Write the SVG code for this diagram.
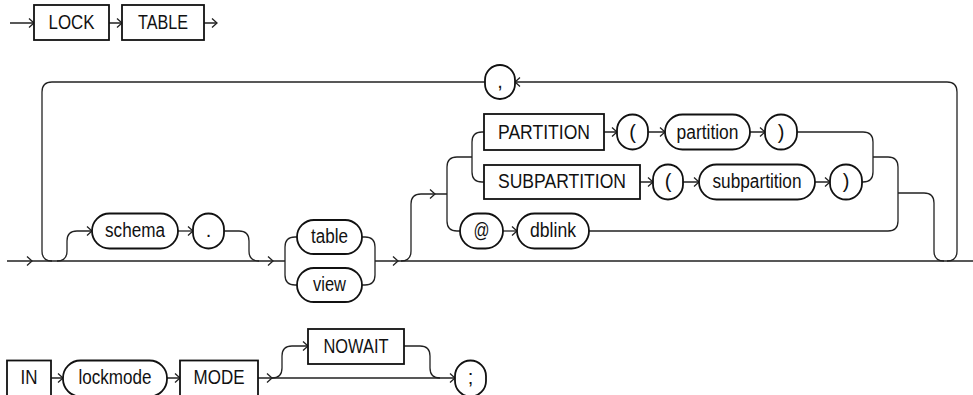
<svg xmlns="http://www.w3.org/2000/svg" xmlns:xlink="http://www.w3.org/1999/xlink" width="973" height="395" viewBox="0 0 973 395">
<style>
.c{fill:none;stroke:#222;stroke-width:1.3}
.k{fill:#fff;stroke:#111;stroke-width:1.8}
.t{font-family:"Liberation Sans",Arial,sans-serif;font-size:20px;fill:#111;text-anchor:middle}
</style>
<defs>
<path id="ar" d="M-5,-4.5 L0,0 L-5,4.5" fill="none" stroke="#222" stroke-width="1.3"/>
</defs>
<rect width="973" height="395" fill="#fff"/>
<g id="connectors">
<path class="c" d="M10,23 H34 M109,23 H122 M204,23 H217"/>
<path class="c" d="M7,261 H285 M375,261 H973"/>
<path class="c" d="M947,261 Q957,261 957,251 V92 Q957,82 947,82 H515"/>
<path class="c" d="M485,82 H52 Q42,82 42,92 V251 Q42,261 52,261"/>
<path class="c" d="M57,261 Q67,261 67,251 V241 Q67,231 77,231 H92"/>
<path class="c" d="M178,231 H193"/>
<path class="c" d="M224,231 H239 Q249,231 249,241 V251 Q249,261 259,261"/>
<path class="c" d="M297,237 H295 Q285,237 285,247 V275 Q285,285 295,285 H297"/>
<path class="c" d="M362,237 H365 Q375,237 375,247 V275 Q375,285 365,285 H362"/>
<path class="c" d="M401,261 Q411,261 411,251 V204 Q411,194 421,194 H447"/>
<path class="c" d="M472,157 H457 Q447,157 447,167 V221 Q447,231 457,231 H460"/>
<path class="c" d="M484,132 H482 Q472,132 472,142 V172 Q472,182 482,182 H484"/>
<path class="c" d="M604,132 H617 M648,132 H665 M750,132 H765"/>
<path class="c" d="M640,182 H653 M683,182 H699 M815,182 H830"/>
<path class="c" d="M797,132 H863 Q873,132 873,142 V172 Q873,182 863,182 H862"/>
<path class="c" d="M873,157 H888 Q898,157 898,167 V221 Q898,231 888,231 H589"/>
<path class="c" d="M898,193 H924 Q934,193 934,203 V251 Q934,261 944,261"/>
<path class="c" d="M503,231 H517"/>
<path class="c" d="M51,378 H63 M167,378 H180 M258,378 H455"/>
<path class="c" d="M272,378 Q282,378 282,368 V356 Q282,346 292,346 H308"/>
<path class="c" d="M404,346 H420 Q430,346 430,356 V368 Q430,378 440,378"/>
<use href="#ar" x="34" y="23"/>
<use href="#ar" x="122" y="23"/>
<use href="#ar" x="217" y="23"/>
<use href="#ar" x="32" y="261"/>
<use href="#ar" x="92" y="231"/>
<use href="#ar" x="193" y="231"/>
<use href="#ar" x="273" y="261"/>
<use href="#ar" x="398" y="261"/>
<use href="#ar" x="435" y="194"/>
<use href="#ar" x="617" y="132"/>
<use href="#ar" x="665" y="132"/>
<use href="#ar" x="765" y="132"/>
<use href="#ar" x="653" y="182"/>
<use href="#ar" x="699" y="182"/>
<use href="#ar" x="830" y="182"/>
<use href="#ar" x="517" y="231"/>
<use href="#ar" transform="translate(515,82) rotate(180)"/>
<use href="#ar" x="63" y="378"/>
<use href="#ar" x="180" y="378"/>
<use href="#ar" x="272" y="378"/>
<use href="#ar" x="308" y="346"/>
<use href="#ar" x="455" y="378"/>
</g>
<g id="n-lock"><rect class="k" x="34" y="5" width="75" height="35"/><text class="t" x="71.5" y="29" textLength="46" lengthAdjust="spacingAndGlyphs">LOCK</text></g>
<g id="n-table-kw"><rect class="k" x="122" y="5" width="82" height="35"/><text class="t" x="163" y="29" textLength="50" lengthAdjust="spacingAndGlyphs">TABLE</text></g>
<g id="n-comma"><rect class="k" x="485" y="65" width="30" height="34" rx="15"/><text class="t" x="500" y="88">,</text></g>
<g id="n-schema"><rect class="k" x="92" y="213.5" width="86" height="35" rx="17.5"/><text class="t" x="135" y="237" textLength="60" lengthAdjust="spacingAndGlyphs">schema</text></g>
<g id="n-dot"><rect class="k" x="193" y="213.5" width="31" height="35" rx="15.5"/><text class="t" x="208.5" y="237">.</text></g>
<g id="n-table"><rect class="k" x="297" y="220" width="65" height="34" rx="17"/><text class="t" x="329.5" y="243" textLength="37" lengthAdjust="spacingAndGlyphs">table</text></g>
<g id="n-view"><rect class="k" x="297" y="268" width="65" height="34" rx="17"/><text class="t" x="329.5" y="291" textLength="33" lengthAdjust="spacingAndGlyphs">view</text></g>
<g id="n-partition-kw"><rect class="k" x="484" y="114" width="120" height="36"/><text class="t" x="544" y="138.5" textLength="92" lengthAdjust="spacingAndGlyphs">PARTITION</text></g>
<g id="n-subpartition-kw"><rect class="k" x="484" y="165" width="156" height="34"/><text class="t" x="562" y="188" textLength="128" lengthAdjust="spacingAndGlyphs">SUBPARTITION</text></g>
<g id="n-at"><rect class="k" x="460" y="213.5" width="43" height="35" rx="17.5"/><text class="t" x="481.5" y="237" textLength="16" lengthAdjust="spacingAndGlyphs">@</text></g>
<g id="n-dblink"><rect class="k" x="517" y="213.5" width="72" height="35" rx="17.5"/><text class="t" x="553" y="237" textLength="46" lengthAdjust="spacingAndGlyphs">dblink</text></g>
<g id="n-lp1"><rect class="k" x="617" y="114.5" width="31" height="35" rx="15.5"/><text class="t" x="632.5" y="138.5">(</text></g>
<g id="n-partition"><rect class="k" x="665" y="114.5" width="85" height="35" rx="17.5"/><text class="t" x="707.5" y="138.5" textLength="62" lengthAdjust="spacingAndGlyphs">partition</text></g>
<g id="n-rp1"><rect class="k" x="765" y="114.5" width="32" height="35" rx="16"/><text class="t" x="781" y="138.5">)</text></g>
<g id="n-lp2"><rect class="k" x="653" y="164.5" width="30" height="35" rx="15"/><text class="t" x="668" y="188">(</text></g>
<g id="n-subpartition"><rect class="k" x="699" y="164.5" width="116" height="35" rx="17.5"/><text class="t" x="757" y="188" textLength="89" lengthAdjust="spacingAndGlyphs">subpartition</text></g>
<g id="n-rp2"><rect class="k" x="830" y="164.5" width="32" height="35" rx="16"/><text class="t" x="846" y="188">)</text></g>
<g id="n-in"><rect class="k" x="7" y="360.5" width="44" height="36"/><text class="t" x="29" y="384" textLength="17" lengthAdjust="spacingAndGlyphs">IN</text></g>
<g id="n-lockmode"><rect class="k" x="63" y="360.5" width="104" height="36" rx="17.5"/><text class="t" x="115" y="384" textLength="73" lengthAdjust="spacingAndGlyphs">lockmode</text></g>
<g id="n-mode"><rect class="k" x="180" y="360.5" width="78" height="36"/><text class="t" x="219" y="384" textLength="51" lengthAdjust="spacingAndGlyphs">MODE</text></g>
<g id="n-nowait"><rect class="k" x="308" y="329" width="96" height="35"/><text class="t" x="356" y="352.5" textLength="65" lengthAdjust="spacingAndGlyphs">NOWAIT</text></g>
<g id="n-semicolon"><rect class="k" x="455" y="360.5" width="31" height="36" rx="15.5"/><text class="t" x="470.5" y="384">;</text></g>
</svg>
